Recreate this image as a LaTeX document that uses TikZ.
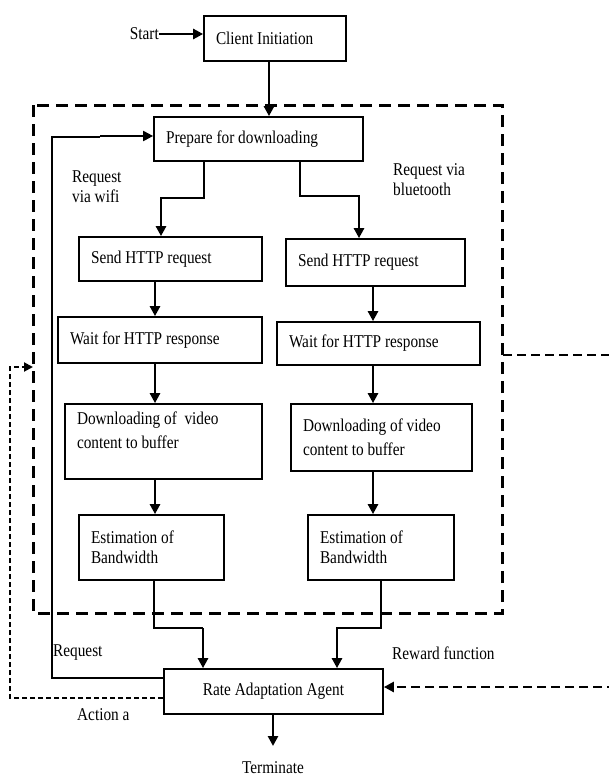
\documentclass[tikz,border=0pt]{standalone}
\usepackage{fontspec}
\setmainfont[FakeStretch=0.85]{Liberation Serif}
\usetikzlibrary{arrows.meta}
\begin{document}
\begin{tikzpicture}[x=1pt,y=-1pt,
  every node/.style={font=\fontsize{18}{20}\selectfont},
  box/.style={draw, line width=1.7pt, rectangle, inner xsep=12pt, inner ysep=0pt, align=left,
    execute at begin node={\spaceskip=0pt\xspaceskip=0pt\relax}},
  arr/.style={line width=2.8pt, -{Triangle[length=10pt,width=10pt]}},
  thn/.style={line width=1.2pt},
  lbl/.style={inner sep=0pt, align=left},
  bigdash/.style={line width=3pt, dash pattern=on 12pt off 7pt},
  actdash/.style={line width=2pt, dash pattern=on 5pt off 3pt},
  rewdash/.style={line width=2.4pt, dash pattern=on 9pt off 5pt}]
\useasboundingbox (0,0) rectangle (608,776);
\fill[white] (0,0) rectangle (608,776);

% dashed frame
\draw[bigdash] (33,105) rectangle (502,613);

% boxes
\node[box, text width=118pt, minimum height=45pt] (client) at (275,38.5) {Client Initiation};
\node[box, text width=185pt, minimum height=44pt] (prep) at (258.5,139) {Prepare for downloading};
\node[box, text width=159pt, minimum height=44pt] (ls) at (170.5,259) {Send HTTP request};
\node[box, text width=155pt, minimum height=47pt] (rs) at (375.5,262.5) {Send HTTP request};
\node[box, text width=180pt, minimum height=46pt] (lw) at (160,340) {Wait for HTTP response};
\node[box, text width=179pt, minimum height=43pt] (rw) at (378.5,343.5) {Wait for HTTP response};
\node[box, text width=173pt, minimum height=75pt] (ld) at (163.5,441.5) {Downloading of\ \ video\\[4pt]content to buffer\\[2pt]\mbox{}};
\node[box, text width=157pt, minimum height=67pt] (rd) at (381.5,437.5) {Downloading of video\\[4pt]content to buffer};
\node[box, text width=121pt, minimum height=65pt] (le) at (151.5,547.5) {Estimation of\\Bandwidth};
\node[box, text width=122pt, minimum height=65pt] (re) at (381,547.5) {Estimation of\\Bandwidth};
\node[draw, line width=1.7pt, rectangle, minimum width=219pt, minimum height=45pt] (agent) at (273.5,691.5) {Rate Adaptation Agent};

% labels
\node[lbl, anchor=east] (start) at (159,34) {Start};
\node[lbl, anchor=north west] (wifi) at (72,171) {Request\\via wifi};
\node[lbl, anchor=north west] (bt) at (393,163) {Request via\\bluetooth};
\node[lbl, anchor=west] (req) at (53,653) {Request};
\node[lbl, anchor=west] (rew) at (392,653) {Reward function};
\node[lbl, anchor=west] (act) at (77,715) {Action a};
\node[lbl, anchor=base] (term) at (273,773) {Terminate};

% helper x positions
\coordinate (xa) at (269,0);
\coordinate (xl) at (155,0);
\coordinate (xr) at (373,0);
\coordinate (xt) at (273,0);

% connectors
\draw[arr] (start.east) -- (client.west |- start.east);
\draw[arr] (client.south -| xa) -- (prep.north -| xa);
\draw[arr] (prep.south -| 204,0) -- (204,198) -- (161,198) -- (ls.north -| 161,0);
\draw[arr] (prep.south -| 300,0) -- (300,196) -- (359,196) -- (rs.north -| 359,0);
\draw[arr] (ls.south -| xl) -- (lw.north -| xl);
\draw[arr] (lw.south -| xl) -- (ld.north -| xl);
\draw[arr] (ld.south -| xl) -- (le.north -| xl);
\draw[arr] (rs.south -| xr) -- (rw.north -| xr);
\draw[arr] (rw.south -| xr) -- (rd.north -| xr);
\draw[arr] (rd.south -| xr) -- (re.north -| xr);

% estimation -> agent
\coordinate (j1) at (203,628);
\draw[thn] (le.south -| 154,0) |- (j1);
\draw[arr] (j1) -- (agent.north -| j1);
\draw[arr] (re.south -| 381,0) -- (381,628) -- (337,628) -- (agent.north -| 337,0);

% terminate
\draw[arr] (agent.south -| xt) -- (273,746);

% request loop
\draw[thn] (agent.west |- 0,678) -- (52,678) -- (52,137) -- (100,137);
\draw[arr, line width=2pt] (100,136) -- (prep.west |- 0,136);

% action feedback
\coordinate (abox) at (33,367);
\draw[actdash, -{Triangle[length=9pt,width=9pt]}] (agent.west |- 0,698) -- (10,698) -- (10,367) -- (abox);

% reward feedback
\draw[rewdash] (503,355) -- (616,355) -- (616,687);
\draw[rewdash, -{Triangle[length=10pt,width=10pt]}] (616,687) -- (agent.east |- 0,687);
\end{tikzpicture}
\end{document}
